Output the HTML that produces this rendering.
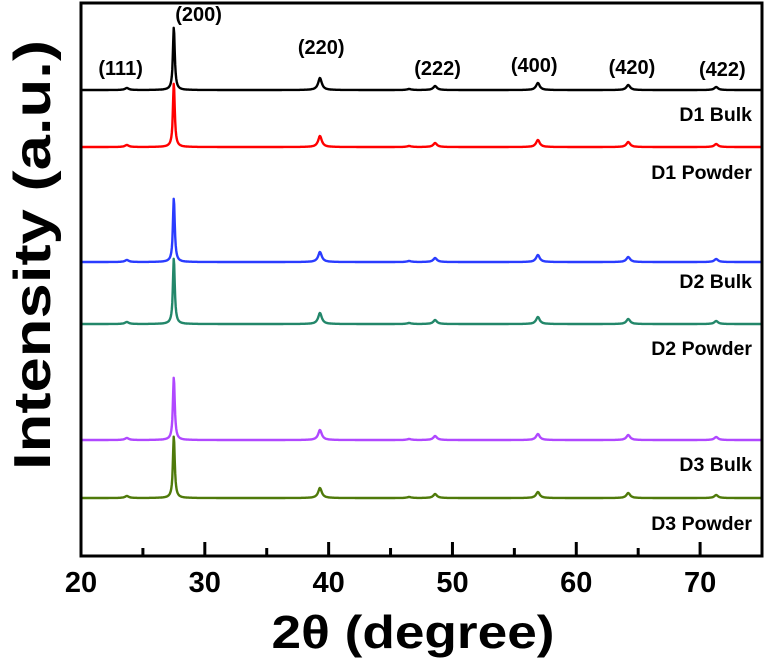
<!DOCTYPE html>
<html><head><meta charset="utf-8"><style>
body{margin:0;background:#fff;width:768px;height:662px;overflow:hidden;font-family:"Liberation Sans",Arial,sans-serif}
svg text{font-family:"Liberation Sans",Arial,sans-serif;font-weight:bold}
</style></head><body>
<svg id="chart" width="768" height="662" viewBox="0 0 768 662" xmlns="http://www.w3.org/2000/svg">
<g id="series"></g>
<g id="frame"></g>
</svg>
<script>
const seriesNames=["D1 Bulk","D1 Powder","D2 Bulk","D2 Powder","D3 Bulk","D3 Powder"];
const seriesColors=["#000000","#ff0000","#2a3cff","#23876a","#b048ff","#4f7a0a"];
const seriesOffsets=[466,409,294,232,116,58];
const peakPositions=[23.7,27.5,39.3,46.5,48.6,56.9,64.2,71.3];
const peakHeights=[
 [2,63,12,1,4,7,5,3],
 [2,64,11,1,4,7,5,3],
 [2,64,10,1,4,7,5,3],
 [2,66,11,1,4,7,5,3],
 [2,63,10,1,4,6,5,3],
 [2,62,10,1,4,6,5,3]];
const peakLabels=["(111)","(200)","(220)","(222)","(400)","(420)","(422)"];
const peakLabelX=[23.2,29.5,39.4,48.8,56.6,64.5,71.8];
const peakLabelY=[481,535,502,481,484,482,480];
const xTicks=[20,30,40,50,60,70];
const xMinor=[25,35,45,55,65,75];
const labelY=[435,377,268,201,85,26];

const L=81,R=762,T=3,B=556;
const xs=v=>L+(v-20)/(75-20)*(R-L);
const ys=v=>B-v/553*(B-T);
const NS="http://www.w3.org/2000/svg";
const gS=document.getElementById('series'),gF=document.getElementById('frame');
function mk(tag,attrs,parent,txt){const e=document.createElementNS(NS,tag);for(const k in attrs)e.setAttribute(k,attrs[k]);if(txt!==undefined)e.textContent=txt;parent.appendChild(e);return e;}

seriesNames.forEach((name,i)=>{
  let d="";
  for(let x=20.05;x<=75;x+=0.04){
    let y=seriesOffsets[i];
    peakPositions.forEach((p,j)=>{const w=(j==1?0.09:0.18);const u=(x-p)/w;y+=peakHeights[i][j]/(1+u*u);});
    d+=(d?"L":"M")+xs(x).toFixed(1)+","+ys(y).toFixed(1);
  }
  const path=mk('path',{d:d,fill:'none',stroke:seriesColors[i],'stroke-width':2.4,'stroke-linejoin':'round'},gS);
  
  
  const t=mk('text',{x:752,y:ys(labelY[i]),'text-anchor':'end','font-size':19.5,fill:'#000'},gF,name);
  
  
});
peakLabels.forEach((lb,i)=>{
  const t=mk('text',{x:xs(peakLabelX[i]),y:ys(peakLabelY[i]),'text-anchor':'middle','font-size':20},gF,lb);
  
  
});
const fr=mk('rect',{x:L,y:T,width:R-L,height:B-T,fill:'none',stroke:'#000','stroke-width':3},gF);


xTicks.forEach(v=>{
  const l=mk('line',{x1:xs(v),x2:xs(v),y1:B,y2:B-14,stroke:'#000','stroke-width':3},gF);
  
  
  const t=mk('text',{x:xs(v),y:592,'text-anchor':'middle','font-size':29},gF,String(v));
  
  
});
xMinor.forEach(v=>{
  const l=mk('line',{x1:xs(v),x2:xs(v),y1:B,y2:B-8,stroke:'#000','stroke-width':3},gF);
  
  
});
const xt=mk('text',{x:413,y:648,'text-anchor':'middle','font-size':46,textLength:283,lengthAdjust:'spacingAndGlyphs'},gF,"2θ (degree)");


const yt=mk('text',{x:0,y:0,'text-anchor':'middle','font-size':52,textLength:430,lengthAdjust:'spacingAndGlyphs',transform:'translate(50,255) rotate(-90)'},gF,"Intensity (a.u.)");


</script>
</body></html>
